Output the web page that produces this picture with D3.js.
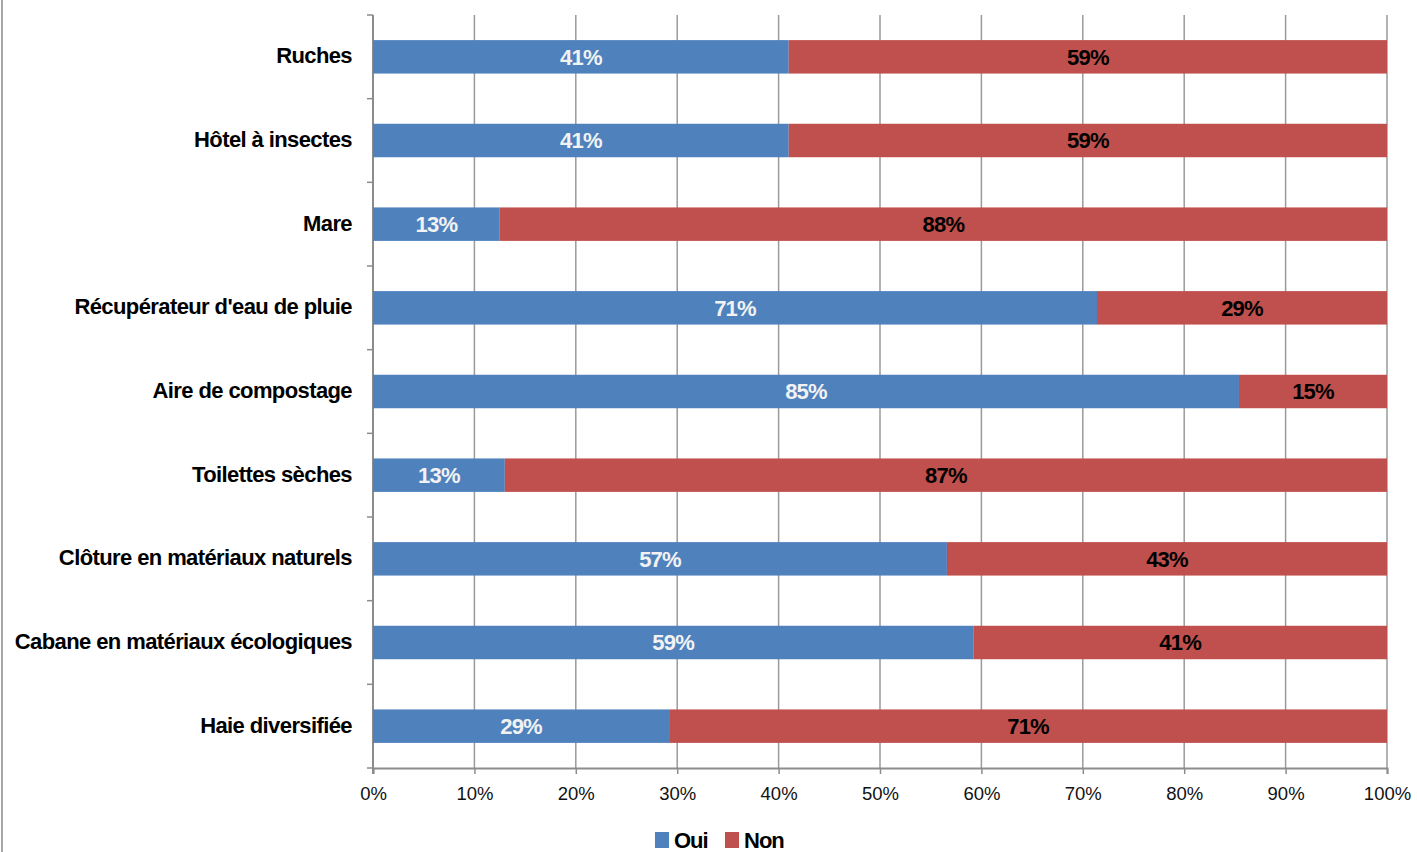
<!DOCTYPE html>
<html>
<head>
<meta charset="utf-8">
<script src="https://cdn.jsdelivr.net/npm/d3@7"></script>
<style>
  body { margin: 0; background: #fff; }
  svg { display: block; }
  .cat { font-family: "Liberation Sans", Arial, sans-serif; font-weight: bold; font-size: 22px; letter-spacing: -0.6px; fill: #000; }
  .val { font-family: "Liberation Sans", Arial, sans-serif; font-weight: bold; font-size: 22px; letter-spacing: -0.8px; }
  .tick text { font-family: "Liberation Sans", Arial, sans-serif; font-size: 18.5px; fill: #111; }
  .legend text { font-family: "Liberation Sans", Arial, sans-serif; font-weight: bold; font-size: 22px; letter-spacing: -1px; }
</style>
</head>
<body>
<script>
// data (percent)
var categories = ["Ruches", "Hôtel à insectes", "Mare", "Récupérateur d'eau de pluie",
                  "Aire de compostage", "Toilettes sèches", "Clôture en matériaux naturels",
                  "Cabane en matériaux écologiques", "Haie diversifiée"];
var oui = [41, 41, 12.5, 71.4, 85.4, 13, 56.6, 59.2, 29.2];
var non = [59, 59, 87.5, 28.6, 14.6, 87, 43.4, 40.8, 70.8];
var seriesNames = ["Oui", "Non"];
var xTicks = [0, 10, 20, 30, 40, 50, 60, 70, 80, 90, 100];

var COLORS = ["#4F81BD", "#C0504D"];
var LABEL_COLORS = ["#f2f2f2", "#000"];

var WIDTH = 1417, HEIGHT = 852;
var PLOT = {left: 373, right: 1387, top: 15, bottom: 768};

var svg = d3.select("body").append("svg")
    .attr("width", WIDTH)
    .attr("height", HEIGHT);

// grey frame on the left edge
svg.append("line")
    .attr("x1", 2).attr("x2", 2)
    .attr("y1", 0).attr("y2", HEIGHT)
    .attr("stroke", "#a6a6a6").attr("stroke-width", 2);

var x = d3.scaleLinear().domain([0, 100]).range([PLOT.left, PLOT.right]);
var y = d3.scaleBand().domain(categories).range([PLOT.top, PLOT.bottom]).padding(0);
var BAR_H = y.bandwidth() * 0.4;

// vertical gridlines
svg.append("g").selectAll("line")
    .data(xTicks.slice(1))
  .enter().append("line")
    .attr("x1", function(d) { return x(d); })
    .attr("x2", function(d) { return x(d); })
    .attr("y1", PLOT.top)
    .attr("y2", PLOT.bottom)
    .attr("stroke", "#9a9a9a")
    .attr("stroke-width", 1.5);

// x axis
var xAxis = svg.append("g")
    .attr("transform", "translate(0," + PLOT.bottom + ")")
    .call(d3.axisBottom(x).tickValues(xTicks).tickSize(6).tickPadding(13)
        .tickFormat(function(d) { return d + "%"; }));
xAxis.select(".domain").attr("stroke", "#8c8c8c").attr("stroke-width", 2);
xAxis.selectAll(".tick line").attr("stroke", "#8c8c8c").attr("stroke-width", 1.5);

// y axis: ticks sit on the category boundaries
var boundaries = categories.map(function(c) { return y(c); }).concat([PLOT.bottom]);
svg.append("line")
    .attr("x1", PLOT.left).attr("x2", PLOT.left)
    .attr("y1", PLOT.top).attr("y2", PLOT.bottom + 6)
    .attr("stroke", "#8c8c8c").attr("stroke-width", 2);
svg.append("g").selectAll("line")
    .data(boundaries)
  .enter().append("line")
    .attr("x1", PLOT.left - 6).attr("x2", PLOT.left)
    .attr("y1", function(d) { return d; })
    .attr("y2", function(d) { return d; })
    .attr("stroke", "#8c8c8c").attr("stroke-width", 1.5);

// category labels
svg.append("g").selectAll("text")
    .data(categories)
  .enter().append("text")
    .attr("class", "cat")
    .attr("x", 352)
    .attr("y", function(d) { return y(d) + y.bandwidth() / 2; })
    .attr("dy", "0.3em")
    .attr("text-anchor", "end")
    .text(function(d) { return d; });

// stacked bars
var rows = categories.map(function(c, i) {
    return {cat: c, segs: [
        {s: 0, x0: 0, x1: oui[i], v: oui[i]},
        {s: 1, x0: oui[i], x1: oui[i] + non[i], v: non[i]}
    ]};
});

var rowG = svg.append("g").selectAll("g")
    .data(rows)
  .enter().append("g")
    .attr("transform", function(d) {
        return "translate(0," + (y(d.cat) + (y.bandwidth() - BAR_H) / 2) + ")";
    });

rowG.selectAll("rect")
    .data(function(d) { return d.segs; })
  .enter().append("rect")
    .attr("x", function(d) { return x(d.x0); })
    .attr("width", function(d) { return x(d.x1) - x(d.x0); })
    .attr("height", BAR_H)
    .attr("fill", function(d) { return COLORS[d.s]; });

rowG.selectAll("text")
    .data(function(d) { return d.segs; })
  .enter().append("text")
    .attr("class", "val")
    .attr("x", function(d) { return (x(d.x0) + x(d.x1)) / 2; })
    .attr("y", BAR_H / 2)
    .attr("dy", "0.36em")
    .attr("text-anchor", "middle")
    .attr("fill", function(d) { return LABEL_COLORS[d.s]; })
    .text(function(d) { return Math.round(d.v) + "%"; });

// legend
var legend = svg.append("g").attr("class", "legend")
    .attr("transform", "translate(655,830)");
var legendX = [0, 70];
var item = legend.selectAll("g")
    .data(seriesNames)
  .enter().append("g")
    .attr("transform", function(d, i) { return "translate(" + legendX[i] + ",0)"; });
item.append("rect")
    .attr("y", 2)
    .attr("width", 14).attr("height", 16)
    .attr("fill", function(d, i) { return COLORS[i]; });
item.append("text")
    .attr("x", 19).attr("y", 18)
    .text(function(d) { return d; });
</script>
</body>
</html>
